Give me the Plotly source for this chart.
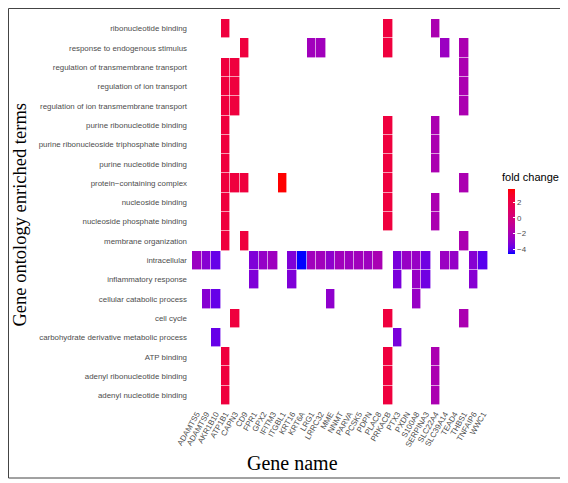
import plotly.graph_objects as go
import numpy as np

# ---------------- data ----------------
genes = ["ADAMTS5", "ADAMTS9", "AKR1B10", "ATP1B1", "CAPN3", "CD9", "FPR1", "GPX2",
         "IFITM3", "ITGBL1", "KRT16", "KRT6A", "LRG1", "LRRC32", "MME", "NNMT",
         "PARVA", "PCSK5", "PDPN", "PLAC8", "PRKACB", "PTX3", "PXDN", "S100A8",
         "SERPINA3", "SLC22A4", "SLC39A14", "TEAD4", "THBS1", "TNFAIP6", "WWC1"]

fold_change = [-2.5, -3.1, -3.8, 2.2, 2.2, 2.2, -3.3, -2.7,
               -2.4, 3.66, -3.3, -4.6, -2.3, -2.3, -2.9, -2.3,
               -2.4, -2.3, -2.4, -2.0, 2.2, -3.4, -2.6, -2.6,
               -3.6, -1.9, -2.5, -2.7, -1.9, -3.1, -4.0]

terms = ["ribonucleotide binding",
         "response to endogenous stimulus",
         "regulation of transmembrane transport",
         "regulation of ion transport",
         "regulation of ion transmembrane transport",
         "purine ribonucleotide binding",
         "purine ribonucleoside triphosphate binding",
         "purine nucleotide binding",
         "protein\u2212containing complex",
         "nucleoside binding",
         "nucleoside phosphate binding",
         "membrane organization",
         "intracellular",
         "inflammatory response",
         "cellular catabolic process",
         "cell cycle",
         "carbohydrate derivative metabolic process",
         "ATP binding",
         "adenyl ribonucleotide binding",
         "adenyl nucleotide binding"]

nucleotide_set = ["ATP1B1", "PRKACB", "SLC22A4"]
transport_set = ["ATP1B1", "CAPN3", "THBS1"]
term_genes = [
    nucleotide_set,
    ["CD9", "LRG1", "LRRC32", "PRKACB", "SLC39A14", "THBS1"],
    transport_set,
    transport_set,
    transport_set,
    nucleotide_set,
    nucleotide_set,
    nucleotide_set,
    ["ATP1B1", "CAPN3", "CD9", "ITGBL1", "PRKACB", "THBS1"],
    nucleotide_set,
    nucleotide_set,
    ["ATP1B1", "CD9", "THBS1"],
    ["ADAMTS5", "ADAMTS9", "AKR1B10", "FPR1", "GPX2", "IFITM3", "KRT16", "KRT6A",
     "LRG1", "LRRC32", "MME", "NNMT", "PARVA", "PCSK5", "PDPN", "PLAC8", "PTX3",
     "PXDN", "S100A8", "SERPINA3", "SLC39A14", "TEAD4", "TNFAIP6", "WWC1"],
    ["FPR1", "KRT16", "PTX3", "S100A8", "SERPINA3", "TNFAIP6"],
    ["ADAMTS9", "AKR1B10", "MME", "S100A8"],
    ["CAPN3", "PRKACB", "THBS1"],
    ["AKR1B10", "PTX3"],
    nucleotide_set,
    nucleotide_set,
    nucleotide_set,
]

colorbar_ticks = [-4, -2, 0, 2]
colorbar_ticktext = ["\u22124", "\u22122", "0", "2"]
fc_min, fc_max = -4.6, 3.66

# ---------------- build matrix ----------------
fc_by_gene = dict(zip(genes, fold_change))
z = []
for tg in term_genes:
    z.append([fc_by_gene[g] if g in tg else None for g in genes])

# ---------------- colour scale (Lab interpolation blue -> red) ----------------
def hex_to_rgb(h):
    h = h.lstrip("#")
    return [int(h[i:i + 2], 16) / 255 for i in (0, 2, 4)]

def srgb_to_lin(c):
    return c / 12.92 if c <= 0.04045 else ((c + 0.055) / 1.055) ** 2.4

def lin_to_srgb(c):
    c = min(max(c, 0), 1)
    return 12.92 * c if c <= 0.0031308 else 1.055 * c ** (1 / 2.4) - 0.055

M = np.array([[0.4124564, 0.3575761, 0.1804375],
              [0.2126729, 0.7151522, 0.0721750],
              [0.0193339, 0.1191920, 0.9503041]])
WHITE = np.array([0.95047, 1.0, 1.08883])

def f(t):
    return t ** (1 / 3) if t > 216 / 24389 else (24389 / 27 * t + 16) / 116

def finv(t):
    return t ** 3 if t ** 3 > 216 / 24389 else (116 * t - 16) / (24389 / 27)

def rgb_to_lab(rgb):
    lin = np.array([srgb_to_lin(c) for c in rgb])
    xyz = M @ lin / WHITE
    fx, fy, fz = [f(v) for v in xyz]
    return np.array([116 * fy - 16, 500 * (fx - fy), 200 * (fy - fz)])

def lab_to_rgb(lab):
    L, a, b = lab
    fy = (L + 16) / 116
    fx = fy + a / 500
    fz = fy - b / 200
    xyz = np.array([finv(fx), finv(fy), finv(fz)]) * WHITE
    lin = np.linalg.solve(M, xyz)
    return [lin_to_srgb(c) for c in lin]

lab_lo = rgb_to_lab(hex_to_rgb("#0000FF"))
lab_hi = rgb_to_lab(hex_to_rgb("#FF0000"))
colorscale = []
for t in np.linspace(0, 1, 21):
    r, g, b = lab_to_rgb(lab_lo + (lab_hi - lab_lo) * t)
    colorscale.append([float(t), "rgb(%d,%d,%d)" % (round(r * 255), round(g * 255), round(b * 255))])

# ---------------- geometry (page pixels; page body has an 8px margin) ----------------
OFF = 8
W, H = 568 - OFF, 483 - OFF
PL, PR, PT, PB = 192 - OFF, 488 - OFF, 19 - OFF, 405 - OFF

def px_x(x):
    return (x - OFF - PL) / (PR - PL)

def px_y(y):
    return (PB - (y - OFF)) / (PB - PT)

tick_font = dict(family="Liberation Sans, Arial", size=7.9, color="#4D4D4D")

fig = go.Figure(go.Heatmap(
    z=z, x=genes, y=terms,
    colorscale=colorscale, zmin=fc_min, zmax=fc_max,
    xgap=0.6, ygap=0.6,
    hoverongaps=False,
    colorbar=dict(
        thickness=7, thicknessmode="pixels",
        len=65, lenmode="pixels",
        x=px_x(508), xanchor="left", xpad=0,
        y=px_y(221.5), yanchor="middle", ypad=0,
        outlinewidth=0,
        tickvals=colorbar_ticks, ticktext=colorbar_ticktext,
        ticks="inside", ticklen=2, tickcolor="white",
        tickfont=tick_font,
    ),
))

fig.update_layout(
    width=W, height=H,
    margin=dict(l=PL, r=W - PR, t=PT, b=H - PB, pad=0, autoexpand=False),
    paper_bgcolor="white", plot_bgcolor="white",
    xaxis=dict(type="category", categoryorder="array", categoryarray=genes,
               tickmode="array", tickvals=genes, ticktext=genes,
               tickangle=-60, showgrid=False, zeroline=False, showline=False,
               ticks="", ticklabelstandoff=2, automargin=False,
               tickfont=tick_font),
    yaxis=dict(type="category", categoryorder="array", categoryarray=terms,
               tickmode="array", tickvals=terms, ticktext=terms,
               autorange="reversed", showgrid=False, zeroline=False, showline=False,
               ticks="", ticklabelstandoff=4, automargin=False,
               tickfont=tick_font),
    showlegend=False,
)

fig.add_annotation(text="Gene name", xref="paper", yref="paper",
                   x=px_x(292), y=px_y(463), xanchor="center", yanchor="middle",
                   showarrow=False,
                   font=dict(family="Liberation Serif, Times New Roman", size=20, color="black"))
fig.add_annotation(text="Gene ontology enriched terms", xref="paper", yref="paper",
                   x=px_x(19.5), y=px_y(215), xanchor="center", yanchor="middle",
                   textangle=-90, showarrow=False, borderpad=0,
                   font=dict(family="Liberation Serif, Times New Roman", size=18.5, color="black"))
fig.add_annotation(text="fold change", xref="paper", yref="paper",
                   x=px_x(500), y=px_y(177), xanchor="left", yanchor="middle",
                   showarrow=False,
                   font=dict(family="Liberation Sans, Arial", size=11, color="black"))

# thin frame around the whole figure
fig.add_shape(type="rect", xref="paper", yref="paper",
              x0=px_x(8.5), x1=px_x(564), y0=px_y(478), y1=px_y(8.5),
              line=dict(color="#444444", width=1), fillcolor="rgba(0,0,0,0)")

fig.write_html("out.html")
